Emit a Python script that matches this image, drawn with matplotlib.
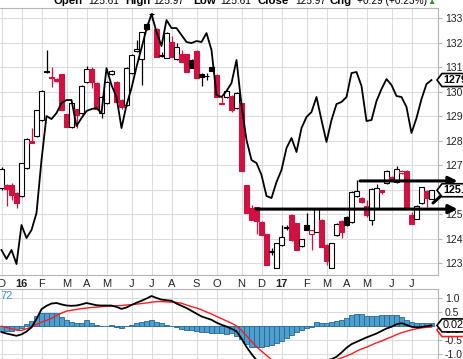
import matplotlib
matplotlib.use("Agg")
import matplotlib.pyplot as plt
import numpy as np
from matplotlib.patches import Polygon
from matplotlib.transforms import IdentityTransform

plt.rcParams['font.family'] = ['Liberation Sans', 'DejaVu Sans']

W, H = 463, 359
RED = '#d11141'
GRID = '#dcdcdc'
SPINE = '#b4b4b4'

# weekly bars, first bar = week of Dec 7 2015
opens = [126.06, 126.18, 126.18, 125.86, 125.73, 126.88, 127.98, 128.18, 128.84, 130.85,
         130.6, 130.5, 130.7, 129.08, 128.55, 129.29, 129.12, 130.39, 130.92, 130.35,
         129.12, 129.53, 130.71, 130.39, 129.65, 129.45, 130.76, 131.65, 131.33, 132.76,
         133.18, 132.55, 131.45, 131.37, 132.02, 131.33, 131.53, 131.53, 131.29, 131.65,
         130.72, 130.64, 131.0, 130.67, 129.55, 129.78, 129.82, 129.33, 129.53, 126.18,
         125.24, 125.29, 124.67, 124.18, 123.47, 122.8, 123.73, 124.45, 124.96, 124.63,
         123.69, 124.55, 124.18, 124.27, 124.76, 123.73, 122.8, 124.14, 124.71, 124.88,
         124.67, 125.73, 125.65, 125.33, 124.76, 125.24, 125.98, 126.27, 126.51, 126.31,
         126.68, 126.76, 124.96, 124.8, 125.45, 125.94, 125.61]
highs = [126.9, 126.22, 126.25, 125.9, 127.1, 128.1, 128.5, 129.26, 130.05, 131.7,
         131.0, 130.55, 130.72, 129.1, 129.55, 129.3, 130.25, 131.05, 131.0, 130.4,
         129.8, 130.42, 130.88, 130.42, 129.7, 131.0, 131.52, 132.1, 132.45, 132.8,
         133.2, 132.6, 131.6, 132.42, 132.27, 132.0, 131.7, 131.55, 131.32, 131.68,
         130.75, 130.76, 131.02, 130.7, 129.82, 130.05, 129.85, 129.97, 129.55, 126.2,
         125.37, 125.3, 124.7, 124.2, 123.6, 123.82, 124.55, 124.55, 125.0, 124.65,
         124.0, 125.04, 124.36, 125.22, 124.8, 123.76, 123.82, 124.62, 124.74, 124.9,
         125.92, 126.39, 125.68, 125.57, 126.05, 126.22, 126.0, 126.78, 126.55, 126.96,
         126.79, 126.78, 125.08, 125.36, 126.12, 125.97, 125.97]
lows = [126.0, 125.33, 125.57, 125.24, 125.7, 126.85, 127.88, 128.15, 128.8, 130.75,
        130.18, 130.38, 129.24, 128.55, 128.5, 128.5, 129.1, 130.35, 130.14, 129.29,
        128.92, 129.5, 130.68, 129.57, 129.3, 129.42, 130.7, 131.6, 130.27, 132.5,
        132.9, 131.41, 131.4, 131.35, 131.41, 131.3, 131.2, 130.8, 130.96, 130.55,
        130.22, 130.47, 130.84, 129.78, 129.5, 129.75, 129.16, 129.3, 126.76, 125.04,
        124.76, 124.2, 124.14, 122.92, 123.33, 122.78, 123.7, 124.35, 123.9, 123.53,
        123.66, 124.33, 123.53, 124.25, 123.65, 122.92, 122.78, 124.1, 124.02, 124.5,
        124.64, 125.7, 125.45, 124.88, 124.55, 125.2, 125.82, 126.24, 126.36, 126.28,
        126.65, 125.29, 124.59, 124.78, 125.42, 125.29, 125.61]
closes = [126.84, 126.02, 125.78, 125.45, 127.08, 128.06, 127.9, 129.24, 130.02, 130.78,
          130.55, 130.42, 129.24, 128.55, 129.53, 129.04, 130.22, 130.92, 130.39, 129.29,
          129.78, 130.39, 130.84, 129.57, 129.37, 130.96, 131.49, 131.73, 132.43, 132.55,
          133.15, 131.41, 131.5, 132.39, 131.41, 131.82, 131.2, 130.8, 130.96, 130.55,
          130.6, 130.62, 130.84, 129.78, 129.5, 130.02, 129.24, 129.94, 126.76, 125.04,
          124.76, 124.72, 124.14, 122.92, 123.45, 123.8, 124.06, 124.43, 123.94, 123.53,
          123.98, 124.35, 124.33, 125.2, 123.65, 123.08, 123.8, 124.59, 124.27, 124.55,
          125.9, 125.92, 125.49, 124.96, 126.02, 126.06, 125.9, 126.76, 126.39, 126.84,
          126.76, 125.29, 124.59, 125.33, 126.1, 125.65, 125.97]

# comparison line (gold)
gold = [1054.6, 1042.7, 1054.6, 1036.1, 1087.6, 1070.4, 1081.0, 1103.4, 1173.4, 1231.5,
        1227.5, 1235.4, 1248.6, 1252.6, 1252.6, 1218.3, 1228.8, 1238.1, 1240.7, 1242.0,
        1235.4, 1294.8, 1272.4, 1256.6, 1215.6, 1246.0, 1268.4, 1296.2, 1321.2, 1346.3,
        1366.1, 1342.4, 1323.9, 1358.2, 1347.6, 1347.6, 1338.4, 1329.2, 1327.8, 1330.5,
        1329.2, 1341.0, 1318.6, 1259.2, 1256.6, 1264.5, 1275.0, 1305.4, 1246.0, 1199.8,
        1173.4, 1169.4, 1153.6, 1125.9, 1123.2, 1144.4, 1160.2, 1189.2, 1202.4, 1184.0,
        1215.6, 1230.2, 1236.8, 1256.6, 1226.2, 1197.2, 1226.2, 1247.3, 1250.0, 1256.6,
        1288.2, 1289.6, 1271.1, 1224.9, 1226.2, 1251.3, 1267.1, 1280.3, 1272.4, 1257.9,
        1256.6, 1243.4, 1209.0, 1228.8, 1253.9, 1273.7, 1279.0]

macd = [-0.22, -0.27, -0.31, -0.35, -0.3, -0.2, -0.05, 0.25, 0.6, 0.72,
        0.8, 0.82, 0.77, 0.73, 0.72, 0.73, 0.77, 0.82, 0.78, 0.74,
        0.73, 0.73, 0.73, 0.68, 0.61, 0.66, 0.75, 0.83, 0.9, 0.98,
        1.07, 1.0, 0.94, 0.92, 0.9, 0.8, 0.72, 0.64, 0.54, 0.44,
        0.34, 0.28, 0.22, 0.12, 0.04, -0.02, -0.1, -0.19, -0.45, -0.75,
        -1.0, -1.22, -1.4, -1.55, -1.62, -1.64, -1.63, -1.6, -1.55, -1.5,
        -1.44, -1.38, -1.33, -1.28, -1.25, -1.22, -1.19, -1.1, -0.95, -0.78,
        -0.65, -0.57, -0.49, -0.41, -0.34, -0.27, -0.18, -0.09, -0.03, 0.06,
        0.1, 0.04, -0.03, -0.05, -0.04, -0.01, 0.02]
signal = [-0.01, -0.05, -0.1, -0.15, -0.16, -0.1, -0.04, 0.05, 0.14, 0.2,
          0.27, 0.37, 0.46, 0.53, 0.56, 0.59, 0.62, 0.64, 0.66, 0.67,
          0.69, 0.7, 0.71, 0.72, 0.73, 0.75, 0.76, 0.78, 0.8, 0.82,
          0.85, 0.87, 0.87, 0.86, 0.85, 0.84, 0.81, 0.75, 0.69, 0.64,
          0.58, 0.5, 0.43, 0.34, 0.26, 0.18, 0.1, 0.0, -0.16, -0.35,
          -0.55, -0.74, -0.9, -1.05, -1.2, -1.3, -1.38, -1.42, -1.44, -1.45,
          -1.44, -1.42, -1.38, -1.34, -1.3, -1.26, -1.23, -1.2, -1.14, -1.07,
          -1.0, -0.9, -0.82, -0.76, -0.68, -0.6, -0.54, -0.46, -0.39, -0.31,
          -0.24, -0.19, -0.14, -0.1, -0.07, -0.05, -0.04]
hist = [-0.17, -0.17, -0.17, -0.12, -0.06, 0.06, 0.16, 0.36, 0.45, 0.45,
        0.45, 0.45, 0.33, 0.21, 0.15, 0.1, 0.1, 0.2, 0.12, 0.04,
        0.0, 0.01, 0.02, -0.03, -0.06, 0.0, 0.04, 0.1, 0.15, 0.18,
        0.21, 0.15, 0.1, 0.04, 0.0, -0.03, -0.1, -0.14, -0.14, -0.18,
        -0.21, -0.21, -0.24, -0.26, -0.26, -0.3, -0.26, -0.36, -0.45, -0.65,
        -0.74, -0.75, -0.75, -0.72, -0.68, -0.6, -0.52, -0.42, -0.32, -0.22,
        -0.14, -0.06, -0.02, 0.15, 0.12, 0.1, 0.14, 0.19, 0.2, 0.3,
        0.4, 0.43, 0.42, 0.36, 0.36, 0.36, 0.38, 0.39, 0.39, 0.39,
        0.33, 0.22, 0.14, 0.1, 0.1, 0.1, 0.1]

month_weeks = [0, 4, 8, 13, 17, 21, 26, 30, 34, 39, 43, 48, 52, 56, 61, 65, 69, 73, 78, 82]
month_labels = ['D', '16', 'F', 'M', 'A', 'M', 'J', 'J', 'A', 'S', 'O', 'N', 'D', '17',
                'F', 'M', 'A', 'M', 'J', 'J']

# drawn annotations: horizontal levels (start week, price) and one diagonal
level_starts = [50.9, 71.7]
level_prices = [125.2, 126.35]
arrow_end_week = 91.2
diag_from = (86.3, 125.45)
diag_to = (91.0, 126.3)

header = [('Open', '125.61'), ('High', '125.97'), ('Low', '125.61'),
          ('Close', '125.97'), ('Chg', '+0.29 (+0.23%)')]
header_x = [(53, 88), (125, 153), (193, 220), (257, 295), (330, 357)]

o = np.array(opens)
c = np.array(closes)
weeks = np.arange(len(c))
prev = np.r_[c[0] - 1, c[:-1]]

fig = plt.figure(figsize=(W / 100, H / 100), dpi=100)
ax = fig.add_axes([0, (H - 275) / H, 438 / W, (275 - 8) / H])
ax2 = ax.twinx()
axm = fig.add_axes([0, 0, 438 / W, (H - 289) / H])

# candles
for i in weeks:
    col = 'black' if c[i] >= prev[i] else RED
    filled = c[i] < o[i]
    ax.vlines(i, lows[i], highs[i], color=col, lw=0.9, zorder=2)
    lo, hi = min(o[i], c[i]), max(o[i], c[i])
    ax.bar(i, max(hi - lo, 0.03), bottom=lo, width=0.84,
           color=col if filled else 'white', edgecolor=col, lw=0.8, zorder=3)

ax.set_xlim(-0.3, 87.3)
ax.set_ylim(122.51, 133.41)
ax.set_yticks(range(123, 134))
ax.yaxis.tick_right()
ax.tick_params(axis='y', length=3, color=SPINE, labelsize=7.5, pad=2, labelcolor='#222222')
ax.set_xticks(month_weeks)
ax.set_xticklabels(month_labels)
ax.tick_params(axis='x', length=0, labelsize=8, pad=3, labelcolor='#222222')
for t in ax.get_xticklabels():
    if t.get_text() in ('16', '17'):
        t.set_fontweight('bold')
ax.grid(True, color=GRID, lw=0.8, zorder=0)
ax.set_axisbelow(True)
ax.spines['left'].set_visible(False)
for s in ['top', 'right', 'bottom']:
    ax.spines[s].set_color(SPINE)

# gold comparison line
ax2.plot(weeks, gold, color='black', lw=1.3)
ax2.set_ylim(1021.6, 1374.1)
ax2.set_axis_off()

# level arrows
for ws, lv in zip(level_starts, level_prices):
    ax.annotate('', xy=(arrow_end_week, lv), xytext=(ws, lv), annotation_clip=False,
                arrowprops=dict(arrowstyle='-|>', lw=2.2, color='black', mutation_scale=13,
                                shrinkA=0, shrinkB=0), zorder=12)

# price tags
def tag(y, text, edge, weight, fs, z):
    x0 = 437
    poly = [(x0, y), (x0 + 5, y + 6.5), (480, y + 6.5), (480, y - 6.5), (x0 + 5, y - 6.5)]
    fig.add_artist(Polygon(poly, closed=True, transform=IdentityTransform(),
                           fc='white', ec=edge, lw=1.2, zorder=z))
    fig.text(x0 + 6, y, text, transform=IdentityTransform(), fontsize=fs,
             fontweight=weight, va='center', ha='left', zorder=z + 0.1)

fig.canvas.draw()
_, y_gold = ax2.transData.transform((weeks[-1], gold[-1]))
tag(y_gold, f'{gold[-1]:.0f}', 'black', 'bold', 7.8, 10)
_, y_close = ax.transData.transform((weeks[-1], closes[-1]))
tag(y_close, f'{closes[-1]:.2f}', 'black', 'bold', 7.8, 10)

ax.annotate('', xy=diag_to, xytext=diag_from, annotation_clip=False,
            arrowprops=dict(arrowstyle='-|>', lw=2.2, color='black', mutation_scale=13,
                            shrinkA=0, shrinkB=0), zorder=12)

# MACD panel
axm.bar(weeks, hist, width=1.0, color='#4f9fcd', edgecolor='#24689a', lw=0.6, zorder=2)
axm.plot(weeks, signal, color='#ff1a1a', lw=1.0, zorder=3)
axm.plot(weeks, macd, color='black', lw=1.3, zorder=4)
axm.set_xlim(-0.3, 87.3)
axm.set_ylim(-1.18, 1.32)
axm.set_yticks([-1.0, -0.5, 0.0, 0.5, 1.0])
axm.set_yticklabels(['-1.0', '-0.5', '0.0', '0.5', '1.0'])
axm.yaxis.tick_right()
axm.tick_params(axis='y', length=3, color=SPINE, labelsize=7.5, pad=2, labelcolor='#222222')
axm.set_xticks(month_weeks)
axm.tick_params(axis='x', length=0, labelbottom=False)
axm.grid(True, color=GRID, lw=0.8, zorder=0)
axm.set_axisbelow(True)
axm.spines['left'].set_visible(False)
axm.spines['bottom'].set_visible(False)
for s in ['top', 'right']:
    axm.spines[s].set_color(SPINE)
fig.text(0, 1 - 296 / H, '72', color='#3a8ec4', fontsize=8, va='center', ha='left')

fig.canvas.draw()
_, y_sig = axm.transData.transform((weeks[-1], signal[-1]))
tag(y_sig - 3, f'{signal[-1]:.2f}', '#ff1a1a', 'normal', 7.5, 10)
_, y_macd = axm.transData.transform((weeks[-1], macd[-1]))
tag(y_macd, f'{macd[-1]:.2f}', 'black', 'normal', 7.8, 11)

# header (cut off at top edge)
for (lab, val), (xl, xv) in zip(header, header_x):
    fig.text(xl / W, 1 - 4 / H, lab, fontsize=8.2, fontweight='bold', va='baseline')
    fig.text(xv / W, 1 - 4 / H, val, fontsize=7.3, va='baseline')
fig.text(431 / W, 1 - 4 / H, '\u25b2', color='#2e8b2e', fontsize=6, va='baseline', ha='center')

fig.savefig('out.png', dpi=100)
